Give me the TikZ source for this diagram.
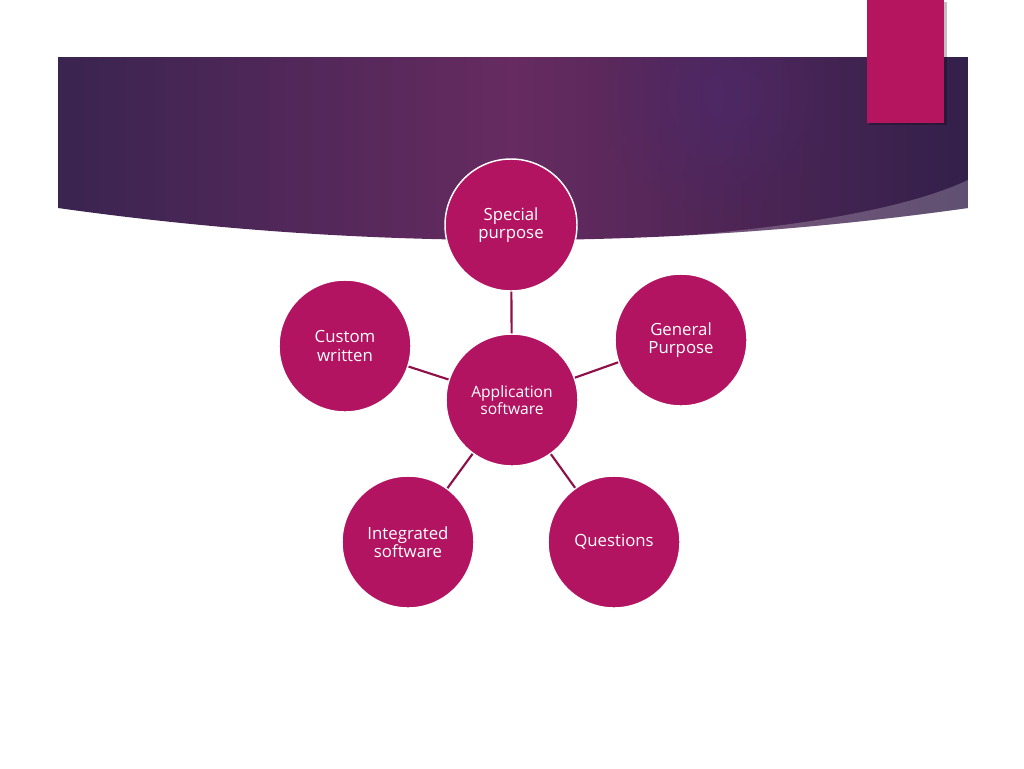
\documentclass[tikz,border=0pt]{standalone}
\usepackage{fontspec}
\setmainfont{Open Sans}
\usetikzlibrary{fadings}
\tikzfading[name=myglow, inner color=transparent!0, outer color=transparent!100]
\definecolor{circfill}{HTML}{B21462}
\definecolor{linecol}{HTML}{8E1048}
\definecolor{bandL}{HTML}{3A2450}
\definecolor{bandM}{HTML}{662B61}
\definecolor{bandR}{HTML}{33204A}
\definecolor{glow}{HTML}{4C2A6E}
\definecolor{tabcol}{HTML}{B5145F}
\tikzset{
  bubble/.style={circle, fill=circfill, draw=white, line width=1.1pt, minimum size=99pt, inner sep=0pt,
    text=white, align=center, font=\fontsize{12.6pt}{13.8pt}\selectfont},
  hub/.style={bubble, font=\fontsize{11.7pt}{11.6pt}\selectfont},
  link/.style={draw=linecol, line width=1.6pt}
}
\begin{document}
\begin{tikzpicture}[x=0.75pt,y=-0.75pt]
\useasboundingbox (0,0) rectangle (1024,768);
\fill[white] (0,0) rectangle (1024,768);
% banner
\begin{scope}
  \clip (58,57) -- (968,57) -- (968,208) .. controls (664.7,250.7) and (361.3,250.7) .. (58,208) -- cycle;
  \shade[left color=bandL, right color=bandR, middle color=bandM] (58,57) rectangle (968,260);
  \fill[glow, path fading=myglow, opacity=0.6] (722,95) circle (120);
  \fill[white, opacity=0.22] (600,241.5) .. controls (770,232) and (900,212) .. (968,180) -- (968,270) -- (600,270) -- cycle;
\end{scope}
% tab
\fill[black, opacity=0.25] (869,2) rectangle (947,125);
\fill[tabcol] (867,0) rectangle (944,123);
% nodes
\node[hub] (app) at (512,400) {Application\\software};
\node[bubble] (sp) at (511,225) {Special\\purpose};
\node[bubble] (gp) at (681,340) {General\\Purpose};
\node[bubble] (q) at (614,542) {Questions};
\node[bubble] (is) at (408,542) {Integrated\\software};
\node[bubble] (cw) at (345,346) {Custom\\written};
% links
\draw[link] (app) -- (sp);
\draw[link] (app) -- (gp);
\draw[link] (app) -- (q);
\draw[link] (app) -- (is);
\draw[link] (app) -- (cw);
\end{tikzpicture}
\end{document}
